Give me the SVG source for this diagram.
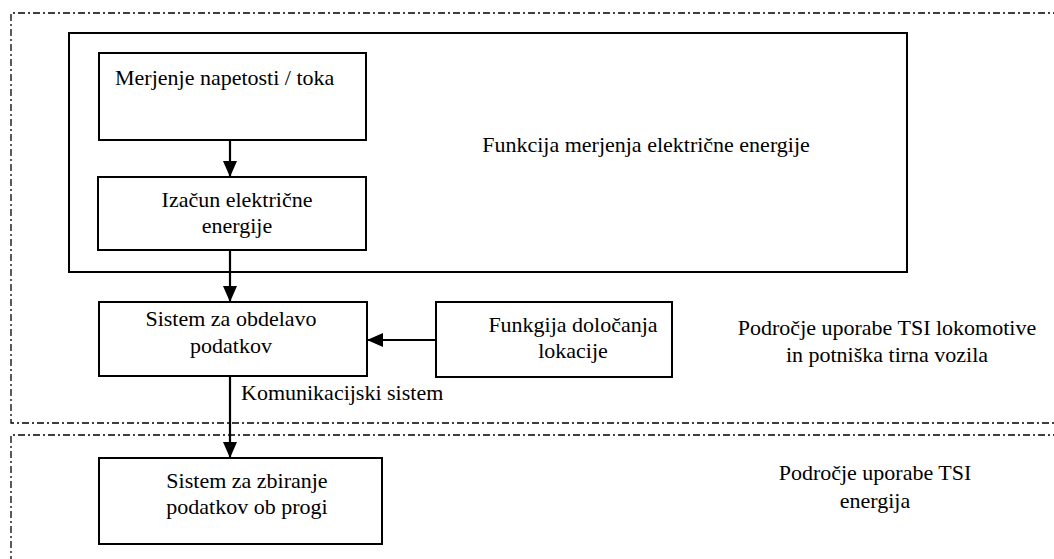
<svg xmlns="http://www.w3.org/2000/svg" width="1054" height="559" viewBox="0 0 1054 559">
<style>
.bg{fill:#ffffff}
.region{fill:none;stroke:#000;stroke-width:1.3;stroke-dasharray:7 3 2 3}
.box{fill:#fff;stroke:#000;stroke-width:2}
.frame{fill:none;stroke:#000;stroke-width:2}
.t{font-family:"Liberation Serif","Times New Roman",serif;font-size:22px;fill:#000}
.c{text-anchor:middle}
.edge{stroke:#000;stroke-width:2.2;fill:none}
</style>
<defs>
<marker id="arr" markerWidth="16" markerHeight="14" refX="16" refY="7" orient="auto" markerUnits="userSpaceOnUse">
<path d="M0,0 L16,7 L0,14 Z" fill="#000"/>
</marker>
</defs>
<rect class="bg" x="0" y="0" width="1054" height="559"/>
<g id="regions">
<path class="region" d="M1060,13 H11 V423 H1060"/>
<path class="region" d="M1060,435 H11 V565"/>
</g>
<g id="frame">
<rect class="frame" x="69" y="33" width="838" height="239"/>
<text class="t c" x="646" y="152">Funkcija merjenja električne energije</text>
</g>
<g id="connectors">
<line class="edge" x1="230" y1="140" x2="230" y2="177" marker-end="url(#arr)"/>
<line class="edge" x1="230" y1="250" x2="230" y2="302" marker-end="url(#arr)"/>
<line class="edge" x1="436" y1="340" x2="367" y2="340" marker-end="url(#arr)"/>
<line class="edge" x1="230" y1="376" x2="230" y2="458" marker-end="url(#arr)"/>
<text class="t" x="241" y="400">Komunikacijski sistem</text>
</g>
<g id="n1">
<rect class="box" x="99" y="53" width="267" height="87"/>
<text class="t" x="115" y="85">Merjenje napetosti / toka</text>
</g>
<g id="n2">
<rect class="box" x="98" y="177" width="268" height="73"/>
<text class="t c" x="237" y="207">Izačun električne</text>
<text class="t c" x="237" y="233">energije</text>
</g>
<g id="n3">
<rect class="box" x="99" y="302" width="268" height="74"/>
<text class="t c" x="231" y="326">Sistem za obdelavo</text>
<text class="t c" x="231" y="353">podatkov</text>
</g>
<g id="n4">
<rect class="box" x="436" y="302" width="236" height="75"/>
<text class="t c" x="573" y="332">Funkgija določanja</text>
<text class="t c" x="573" y="358">lokacije</text>
</g>
<g id="n5">
<rect class="box" x="99" y="458" width="283" height="86"/>
<text class="t c" x="247" y="488">Sistem za zbiranje</text>
<text class="t c" x="247" y="514">podatkov ob progi</text>
</g>
<g id="labels">
<text class="t c" x="887" y="335">Področje uporabe TSI lokomotive</text>
<text class="t c" x="887" y="362">in potniška tirna vozila</text>
<text class="t c" x="875" y="480">Področje uporabe TSI</text>
<text class="t c" x="875" y="508">energija</text>
</g>
</svg>
